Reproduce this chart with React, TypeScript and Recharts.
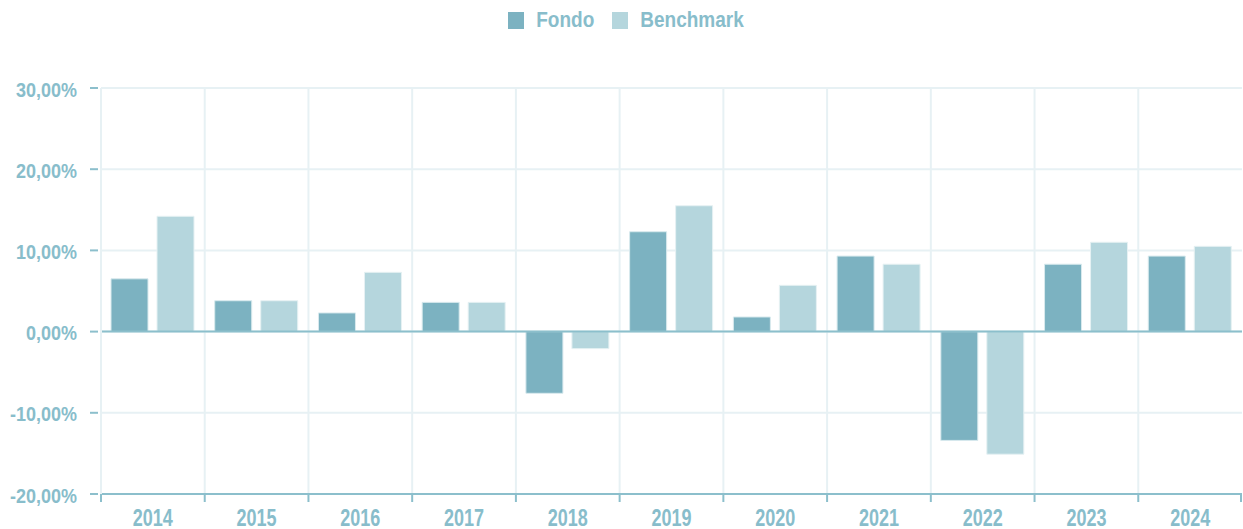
import React from 'react';
import {
  BarChart, Bar, XAxis, YAxis, CartesianGrid, Legend, ReferenceLine,
} from 'recharts';

const years = ['2014', '2015', '2016', '2017', '2018', '2019', '2020', '2021', '2022', '2023', '2024'];
const fondo = [6.5, 3.8, 2.3, 3.6, -7.6, 12.3, 1.8, 9.3, -13.4, 8.3, 9.3];
const benchmark = [14.2, 3.8, 7.3, 3.6, -2.1, 15.5, 5.7, 8.3, -15.1, 11.0, 10.5];
const yTicks = [-20, -10, 0, 10, 20, 30];
const seriesNames = ['Fondo', 'Benchmark'];

const data = years.map((y, i) => ({ year: y, Fondo: fondo[i], Benchmark: benchmark[i] }));

const C_FONDO = '#7cb2c1';
const C_BENCH = '#b5d6dd';
const C_TEXT = '#88bdcb';
const C_AXIS = '#8cbfcc';
const C_GRID = '#e7f1f4';
const FONT = '"Liberation Sans", Arial, sans-serif';

const fmt = (v: number) => v.toFixed(2).replace('.', ',') + '%';

const YTick = (props: any) => {
  const { x, y, payload } = props;
  return (
    <g>
      <line x1={x - 11} x2={x - 3} y1={y} y2={y} stroke={C_AXIS} strokeWidth={2} />
      <text
        transform={`translate(${x - 24},${y + 8.5}) scale(1,1.15)`}
        textAnchor="end"
        fill={C_TEXT}
        fontFamily={FONT}
        fontWeight="bold"
        fontSize={18}
      >
        {fmt(payload.value)}
      </text>
    </g>
  );
};

const XTick = (props: any) => {
  const { x, y, payload, index, visibleTicksCount } = props;
  const half = payload.offset ?? 52;
  return (
    <g>
      <line x1={x - half} x2={x - half} y1={y} y2={y + 8} stroke={C_AXIS} strokeWidth={2} />
      {index === visibleTicksCount - 1 && (
        <line x1={x + half - 1} x2={x + half - 1} y1={y} y2={y + 8} stroke={C_AXIS} strokeWidth={2} />
      )}
      <text
        transform={`translate(${x},${y + 31.5}) scale(1,1.28)`}
        textAnchor="middle"
        fill={C_TEXT}
        fontFamily={FONT}
        fontWeight="bold"
        fontSize={18}
      >
        {payload.value}
      </text>
    </g>
  );
};

const LegendContent = () => {
  const colors = [C_FONDO, C_BENCH];
  return (
    <div style={{ display: 'flex', justifyContent: 'center', alignItems: 'center', gap: 18, paddingLeft: 10 }}>
      {seriesNames.map((n, i) => (
        <div key={n} style={{ display: 'flex', alignItems: 'center' }}>
          <span style={{ display: 'inline-block', width: 16, height: 17, background: colors[i], marginRight: 12 }} />
          <span
            style={{
              fontFamily: FONT,
              fontWeight: 'bold',
              fontSize: 19,
              color: C_TEXT,
              display: 'inline-block',
              transform: 'scale(1,1.18)',
              lineHeight: '20px',
            }}
          >
            {n}
          </span>
        </div>
      ))}
    </div>
  );
};

export default function App() {
  return (
    <div style={{ position: 'absolute', left: 0, top: 0, background: '#fff' }}>
      <BarChart
        width={1243}
        height={529}
        data={data}
        margin={{ top: 48, right: 1, bottom: 0, left: 0 }}
        barCategoryGap={10}
        barGap={9}
      >
        <Legend verticalAlign="top" height={40} wrapperStyle={{ top: 10 }} content={<LegendContent />} />
        <CartesianGrid
          stroke={C_GRID}
          strokeWidth={2}
          verticalCoordinatesGenerator={({ offset }: any) =>
            years.map((_, i) => offset.left + (i * offset.width) / years.length)
          }
        />
        <XAxis
          dataKey="year"
          height={35}
          tickLine={false}
          tickSize={0}
          tickMargin={0}
          axisLine={{ stroke: C_AXIS, strokeWidth: 2 }}
          tick={<XTick />}
          interval={0}
        />
        <YAxis
          width={101}
          domain={[-20, 30]}
          ticks={yTicks}
          interval={0}
          tickLine={false}
          axisLine={{ stroke: C_GRID, strokeWidth: 2 }}
          tick={<YTick />}
          tickSize={0}
          tickMargin={0}
        />
        <ReferenceLine y={0} stroke={C_AXIS} strokeWidth={2} />
        <Bar dataKey="Fondo" fill={C_FONDO} stroke="#d9eaee" strokeWidth={1} isAnimationActive={false} />
        <Bar dataKey="Benchmark" fill={C_BENCH} stroke="#e6f1f3" strokeWidth={1} isAnimationActive={false} />
      </BarChart>
    </div>
  );
}
